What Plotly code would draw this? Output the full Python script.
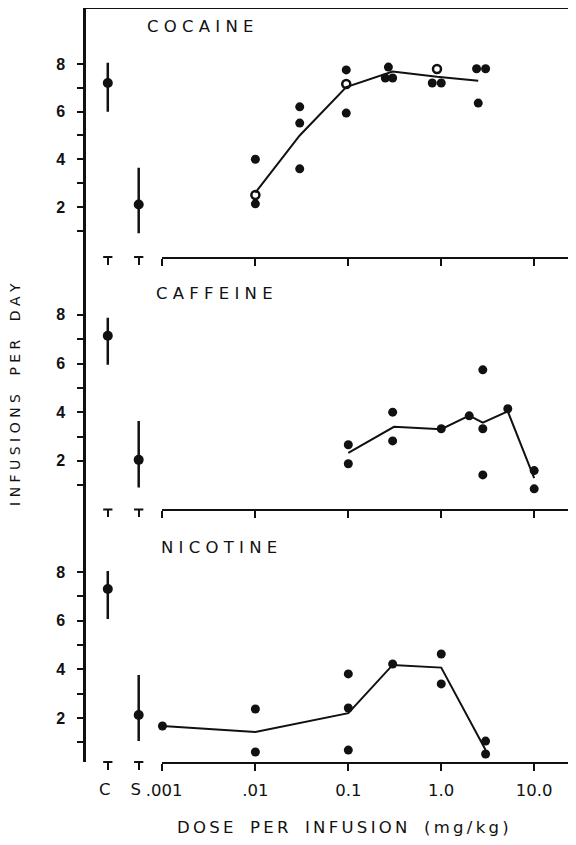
import plotly.graph_objects as go

# ---------------- data ----------------
panel_names = ["C O C A I N E", "C A F F E I N E", "N I C O T I N E"]
control_cats = ["C", "S"]

# control means and error limits (upper / lower extents)
coc_ctrl = [7.2, 2.1]
coc_ctrl_up = [0.85, 1.55]
coc_ctrl_dn = [1.2, 1.2]
caf_ctrl = [7.14, 2.04]
caf_ctrl_up = [0.74, 1.6]
caf_ctrl_dn = [1.19, 1.14]
nic_ctrl = [7.3, 2.12]
nic_ctrl_up = [0.74, 1.65]
nic_ctrl_dn = [1.23, 1.07]

# cocaine individual points
coc_dose = [0.01, 0.01, 0.03, 0.03, 0.03, 0.095, 0.095, 0.27, 0.25, 0.3, 0.8, 1.0, 2.4, 3.0, 2.5]
coc_val = [4.0, 2.13, 6.2, 5.52, 3.6, 7.75, 5.94, 7.87, 7.41, 7.41, 7.2, 7.2, 7.8, 7.8, 6.36]
coc_open_dose = [0.01, 0.095, 0.9]
coc_open_val = [2.5, 7.16, 7.79]
coc_line_dose = [0.01, 0.03, 0.095, 0.25, 0.3, 0.9, 2.5]
coc_line_val = [2.6, 5.0, 7.03, 7.58, 7.68, 7.46, 7.3]

# caffeine
caf_dose = [0.1, 0.1, 0.3, 0.3, 1.0, 2.0, 2.8, 2.8, 2.8, 5.2, 10.0, 10.0]
caf_val = [2.66, 1.88, 4.0, 2.82, 3.32, 3.85, 5.74, 3.32, 1.42, 4.14, 1.6, 0.85]
caf_line_dose = [0.1, 0.31, 1.0, 2.0, 2.8, 5.2, 10.0]
caf_line_val = [2.33, 3.4, 3.3, 3.86, 3.57, 4.03, 1.29]

# nicotine
nic_dose = [0.001, 0.01, 0.01, 0.1, 0.1, 0.1, 0.3, 1.0, 1.0, 3.0, 3.0]
nic_val = [1.67, 2.37, 0.6, 3.81, 2.41, 0.68, 4.22, 4.63, 3.4, 1.05, 0.52]
nic_line_dose = [0.001, 0.01, 0.1, 0.3, 1.0, 3.0]
nic_line_val = [1.67, 1.42, 2.2, 4.18, 4.07, 0.68]

dose_ticks = [0.001, 0.01, 0.1, 1, 10]
dose_ticktext = ["\u2009.001", ".01", "0.1", "1.0", "10.0"]
y_ticks = [1, 2, 3, 4, 5, 6, 7, 8]
y_ticktext = ["", "2", "", "4", "", "6", "", "8"]

# ---------------- figure ----------------
fig = go.Figure()
BLACK = "#111111"

panels = [
    dict(ctrl=coc_ctrl, up=coc_ctrl_up, dn=coc_ctrl_dn, dose=coc_dose, val=coc_val,
         odose=coc_open_dose, oval=coc_open_val, ld=coc_line_dose, lv=coc_line_val),
    dict(ctrl=caf_ctrl, up=caf_ctrl_up, dn=caf_ctrl_dn, dose=caf_dose, val=caf_val,
         odose=[], oval=[], ld=caf_line_dose, lv=caf_line_val),
    dict(ctrl=nic_ctrl, up=nic_ctrl_up, dn=nic_ctrl_dn, dose=nic_dose, val=nic_val,
         odose=[], oval=[], ld=nic_line_dose, lv=nic_line_val),
]

y_domains = [[0.6698, 1.0], [0.3349, 0.6698], [0.0, 0.3349]]
y_ranges = [[-0.1, 10.35], [0.0, 10.38], [0.19, 10.57]]

for i, p in enumerate(panels):
    xc = "x" if i == 0 else f"x{2*i+1}"
    xl = f"x{2*i+2}"
    ya = "y" if i == 0 else f"y{i+1}"
    fig.add_trace(go.Scatter(
        x=control_cats, y=p["ctrl"], xaxis=xc, yaxis=ya, mode="markers",
        marker=dict(color=BLACK, size=10, symbol="circle"),
        error_y=dict(type="data", symmetric=False, array=p["up"], arrayminus=p["dn"],
                     color=BLACK, thickness=2.5, width=0),
        showlegend=False, cliponaxis=False))
    fig.add_trace(go.Scatter(
        x=p["ld"], y=p["lv"], xaxis=xl, yaxis=ya, mode="lines",
        line=dict(color=BLACK, width=2), showlegend=False, cliponaxis=False))
    fig.add_trace(go.Scatter(
        x=p["dose"], y=p["val"], xaxis=xl, yaxis=ya, mode="markers",
        marker=dict(color=BLACK, size=9, symbol="circle"),
        showlegend=False, cliponaxis=False))
    if p["odose"]:
        fig.add_trace(go.Scatter(
            x=p["odose"], y=p["oval"], xaxis=xl, yaxis=ya, mode="markers",
            marker=dict(color=BLACK, size=8, symbol="circle-open", line=dict(width=2.5, color=BLACK)),
            showlegend=False, cliponaxis=False))

tickfont_x = dict(family="DejaVu Sans", size=16.5, color=BLACK)
tickfont_y = dict(family="Liberation Sans", size=16, color=BLACK, weight="bold")

layout = dict(
    width=576, height=845,
    margin=dict(l=76, r=8, t=0, b=91),
    paper_bgcolor="white", plot_bgcolor="white",
    showlegend=False,
)

for i in range(3):
    cat_name = "xaxis" if i == 0 else f"xaxis{2*i+1}"
    log_name = f"xaxis{2*i+2}"
    y_name = "yaxis" if i == 0 else f"yaxis{i+1}"
    ya = "y" if i == 0 else f"y{i+1}"
    bottom = (i == 2)
    layout[cat_name] = dict(
        type="category", domain=[0, 0.152], range=[-0.77, 1.65], anchor=ya,
        showline=False, showgrid=False, zeroline=False,
        ticks="outside", ticklen=7, tickwidth=2, tickcolor=BLACK,
        showticklabels=bottom, tickfont=tickfont_x, ticklabelstandoff=5,
        ticklabelshift=-3,
        categoryorder="array", categoryarray=control_cats,
    )
    layout[log_name] = dict(
        type="log", domain=[0.1585, 1.0], range=[-3.005, 1.45], anchor=ya,
        showline=True, linecolor=BLACK, linewidth=2,
        showgrid=False, zeroline=False,
        ticks="outside", ticklen=7, tickwidth=2, tickcolor=BLACK,
        tickmode="array", tickvals=dose_ticks, ticktext=dose_ticktext,
        showticklabels=bottom, tickfont=tickfont_x, ticklabelstandoff=5,
    )
    layout[y_name] = dict(
        domain=y_domains[i], range=y_ranges[i], anchor="free", position=0,
        showline=True, linecolor=BLACK, linewidth=2.5,
        showgrid=False, zeroline=False,
        ticks="outside", ticklen=6, tickwidth=2, tickcolor=BLACK,
        tickmode="array", tickvals=y_ticks, ticktext=y_ticktext,
        tickfont=tickfont_y, ticklabelstandoff=9,
    )

fig.update_layout(**layout)

# T-shaped marks at C and S (small axis segments)
shapes = []
for i in range(3):
    xc = "x" if i == 0 else f"x{2*i+1}"
    ya = "y" if i == 0 else f"y{i+1}"
    for k in range(len(control_cats)):
        shapes.append(dict(type="line", xref=xc, yref=f"{ya} domain",
                           x0=k - 0.15, x1=k + 0.15, y0=0, y1=0,
                           line=dict(color=BLACK, width=2)))
# top frame line of the first panel
shapes.append(dict(type="line", xref="paper", yref="paper", x0=0, x1=1, y0=1, y1=1,
                   line=dict(color=BLACK, width=2)))
fig.update_layout(shapes=shapes)

title_font = dict(family="DejaVu Sans", size=16.5, color=BLACK)
ann = [
    dict(text=panel_names[0], x=0.236, y=0.975),
    dict(text=panel_names[1], x=0.265, y=0.622),
    dict(text=panel_names[2], x=0.274, y=0.285),
]
annotations = []
for a in ann:
    annotations.append(dict(text=a["text"], x=a["x"], y=a["y"], xref="paper", yref="paper",
                            xanchor="center", yanchor="middle", showarrow=False, font=title_font))
annotations.append(dict(text="I N F U S I O N S \u2003P E R \u2003D A Y", x=-0.140, y=0.487,
                        xref="paper", yref="paper", textangle=-90, showarrow=False,
                        xanchor="center", yanchor="middle",
                        font=dict(family="DejaVu Sans", size=14, color=BLACK)))
T = "\u2009"
xtitle = "\u2002\u2002".join(T.join(list(w)) for w in ["DOSE", "PER", "INFUSION", "(mg/kg)"])
annotations.append(dict(text=xtitle,
                        x=0.526, y=-0.0875, xref="paper", yref="paper", showarrow=False,
                        xanchor="center", yanchor="middle",
                        font=dict(family="DejaVu Sans", size=16.5, color=BLACK)))
fig.update_layout(annotations=annotations)

fig.write_html("out.html")
